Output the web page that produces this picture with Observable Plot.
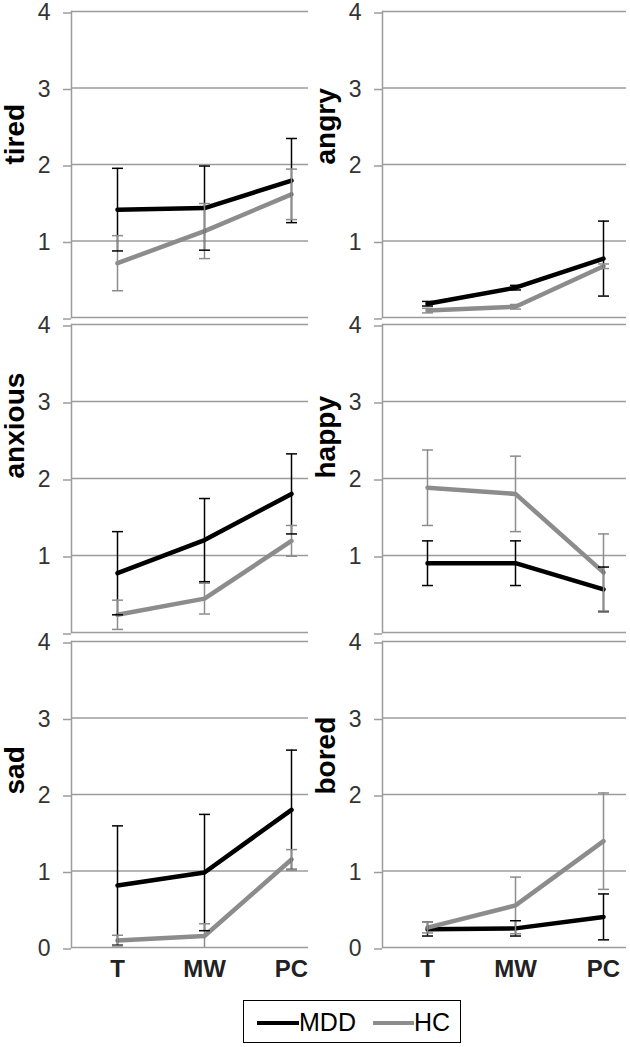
<!DOCTYPE html>
<html><head><meta charset="utf-8">
<script src="https://cdn.jsdelivr.net/npm/d3@7"></script>
<script src="https://cdn.jsdelivr.net/npm/@observablehq/plot@0.6"></script>
<style>
body{margin:0;background:#fff;}
#chart{position:relative;width:630px;height:1047px;background:#fff;font-family:"Liberation Sans",Arial,sans-serif;overflow:hidden;}
#chart > svg{position:absolute;}
#legend{position:absolute;left:243px;top:1000px;width:216px;height:41px;border:1.5px solid #000;box-sizing:content-box;}
#legend .sw{position:absolute;top:20px;height:4px;}
#legend .lb{position:absolute;top:6px;font-size:25px;line-height:30px;color:#000;}
</style></head><body><div id="chart"></div>
<script>
// ---- data ----
const categories = ["T", "MW", "PC"];
const groups = ["MDD", "HC"];
const emotions = ["tired", "angry", "anxious", "happy", "sad", "bored"];
const yTicks = [0, 1, 2, 3, 4];
const mddMean = [[1.41, 1.43, 1.79], [0.18, 0.39, 0.77], [0.77, 1.20, 1.80], [0.90, 0.90, 0.56], [0.81, 0.98, 1.80], [0.24, 0.25, 0.40]];
const mddErr  = [[0.54, 0.55, 0.55], [0.03, 0.03, 0.49], [0.54, 0.54, 0.52], [0.29, 0.29, 0.29], [0.78, 0.76, 0.78], [0.09, 0.10, 0.30]];
const hcMean  = [[0.71, 1.13, 1.61], [0.09, 0.14, 0.67], [0.23, 0.44, 1.19], [1.88, 1.80, 0.78], [0.09, 0.15, 1.15], [0.26, 0.55, 1.39]];
const hcErr   = [[0.36, 0.36, 0.33], [0.03, 0.03, 0.03], [0.19, 0.20, 0.20], [0.49, 0.49, 0.50], [0.07, 0.16, 0.13], [0.07, 0.37, 0.63]];

// ---- layout / style ----
const colors = ["#000000", "#8c8c8c"];
const gridColor = "#9c9c9c";
const colLeft = [0, 311], colWidth = [308, 315], colInset = [[45, 17], [44, 23]];
const rowTop = [0, 314, 631], rowHeight = [320, 321, 356], rowMarginTop = [11, 10, 10], rowMarginBottom = [3, 3, 40];
const font = "'Liberation Sans', Arial, sans-serif";
const capSymbol = {draw(context, size) { const r = Math.sqrt(size / Math.PI); context.moveTo(-r, 0); context.lineTo(r, 0); }};

const chart = document.getElementById("chart");

emotions.forEach((emo, e) => {
  const row = Math.floor(e / 2), col = e % 2;
  const data = [];
  categories.forEach((c, i) => {
    data.push({cat: c, group: groups[0], mean: mddMean[e][i], err: mddErr[e][i]});
  });
  categories.forEach((c, i) => {
    data.push({cat: c, group: groups[1], mean: hcMean[e][i], err: hcErr[e][i]});
  });
  const bottom = row === 2;
  const capOpts = {x: "cat", stroke: "group", strokeWidth: 1.5, fill: "none", symbol: capSymbol, r: 5.5};
  const marks = [
    Plot.ruleY(yTicks, {stroke: gridColor, strokeWidth: 1.5}),
    Plot.frame({anchor: "left", stroke: gridColor, strokeWidth: 1.5}),
    Plot.axisY({ticks: yTicks, tickSize: 8, tickPadding: 13, stroke: gridColor, strokeWidth: 1.5, fill: "#333", fontSize: 23, dy: 1.5,
      tickFormat: d => (!bottom && d === 0) ? "" : String(d), label: null}),
    Plot.text([emo], {frameAnchor: "left", dx: -56, rotate: -90, fontSize: 28, fontWeight: "bold", fill: "#000", text: d => d}),
    Plot.line(data, {x: "cat", y: "mean", z: "group", stroke: "group", strokeWidth: 4.5, strokeLinejoin: "round"}),
    Plot.ruleX(data, {x: "cat", y1: d => Math.max(0, d.mean - d.err), y2: d => d.mean + d.err, stroke: "group", strokeWidth: 1.5}),
    Plot.dot(data, {...capOpts, y: d => d.mean + d.err}),
    Plot.dot(data.filter(d => d.mean - d.err >= 0), {...capOpts, y: d => d.mean - d.err})
  ];
  if (bottom) marks.push(Plot.axisX({tickSize: 0, tickPadding: 12, fontSize: 24, fontWeight: "bold", fill: "#222", label: null}));
  const svg = Plot.plot({
    width: colWidth[col], height: rowHeight[row],
    marginLeft: 71, marginRight: 0, marginTop: rowMarginTop[row], marginBottom: rowMarginBottom[row],
    style: {background: "transparent", fontFamily: font, overflow: "visible"},
    x: {type: "point", domain: categories, padding: 0, insetLeft: colInset[col][0], insetRight: colInset[col][1], axis: bottom ? undefined : null},
    y: {domain: [0, 4]},
    color: {domain: groups, range: colors},
    marks
  });
  svg.style.left = colLeft[col] + "px";
  svg.style.top = rowTop[row] + "px";
  chart.appendChild(svg);
});

// legend
const legend = document.createElement("div");
legend.id = "legend";
legend.innerHTML =
  `<div class="sw" style="left:13px;width:42px;background:${colors[0]}"></div><div class="lb" style="left:55px">${groups[0]}</div>` +
  `<div class="sw" style="left:129px;width:41px;background:${colors[1]}"></div><div class="lb" style="left:170px">${groups[1]}</div>`;
chart.appendChild(legend);
</script></body></html>
